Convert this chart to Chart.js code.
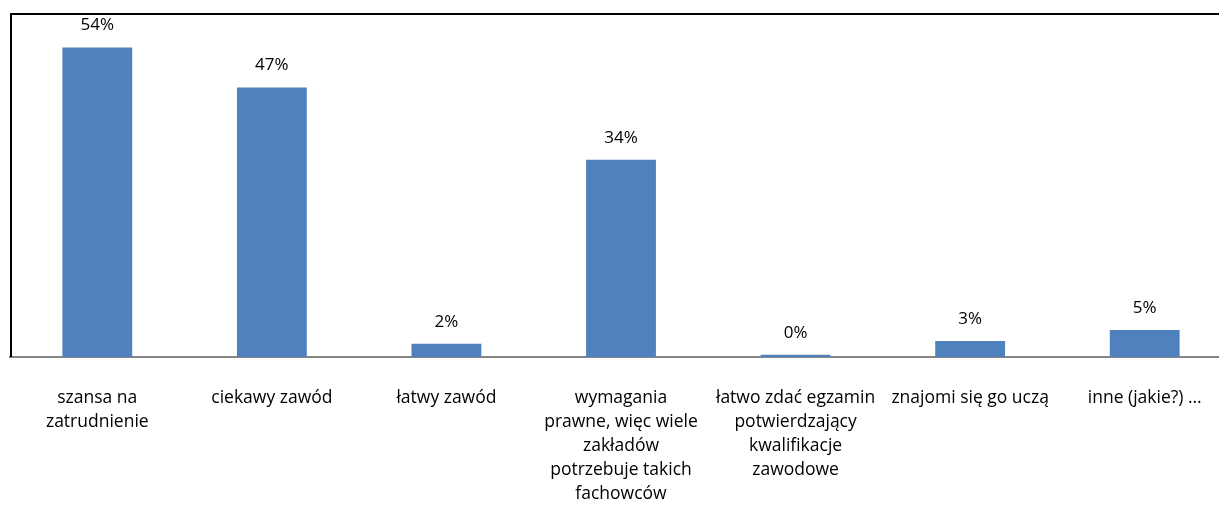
<!DOCTYPE html>
<html>
<head>
<meta charset="utf-8">
<script src="https://cdn.jsdelivr.net/npm/chart.js@4/dist/chart.umd.min.js"></script>
<style>
html,body{margin:0;padding:0;background:#fff;overflow:hidden;}
#wrap{width:1232px;height:507px;}
</style>
</head>
<body>
<div id="wrap"><canvas id="c" width="1232" height="507"></canvas></div>
<script>
const categories = [
  ["szansa na","zatrudnienie"],
  "ciekawy zawód",
  "łatwy zawód",
  ["wymagania","prawne, więc wiele","zakładów","potrzebuje takich","fachowców"],
  ["łatwo zdać egzamin","potwierdzający","kwalifikacje","zawodowe"],
  "znajomi się go uczą",
  "inne (jakie?) …"
];
const values = [54, 47, 2.3, 34.4, 0.4, 2.8, 4.7];
const valueLabels = ["54%","47%","2%","34%","0%","3%","5%"];

const FONT = "'Open Sans', Lato, sans-serif";

const framePlugin = {
  id: 'frame',
  afterDraw(chart) {
    const {ctx, chartArea} = chart;
    ctx.save();
    ctx.strokeStyle = '#000';
    ctx.lineWidth = 2;
    ctx.beginPath();
    ctx.moveTo(chartArea.left + 1, chartArea.bottom);
    ctx.lineTo(chartArea.left + 1, chartArea.top + 1);
    ctx.lineTo(chart.width + 5, chartArea.top + 1);
    ctx.stroke();
    ctx.restore();
  }
};

const valuePlugin = {
  id: 'values',
  afterDatasetsDraw(chart) {
    const {ctx} = chart;
    const meta = chart.getDatasetMeta(0);
    ctx.save();
    ctx.fillStyle = '#000';
    ctx.font = "17px " + FONT;
    ctx.textAlign = 'center';
    ctx.textBaseline = 'middle';
    meta.data.forEach((bar, i) => {
      ctx.fillText(valueLabels[i], bar.x, bar.y - 22);
    });
    ctx.restore();
  }
};

new Chart(document.getElementById('c'), {
  type: 'bar',
  data: {
    labels: categories,
    datasets: [{
      data: values,
      backgroundColor: '#4F81BD',
      borderWidth: 0,
      barPercentage: 0.4,
      categoryPercentage: 1.0
    }]
  },
  options: {
    responsive: false,
    animation: false,
    layout: {padding: {left: 10, top: 13, right: 0, bottom: 0}},
    plugins: {legend: {display: false}, tooltip: {enabled: false}},
    scales: {
      y: {display: false, min: 0, max: 60},
      x: {
        grid: {display: false},
        border: {display: true, color: '#868686', width: 2},
        ticks: {
          color: '#000',
          font: {family: FONT, size: 17.5, lineHeight: 1.37},
          padding: 21,
          maxRotation: 0,
          minRotation: 0,
          autoSkip: false
        },
        afterFit(scale) { scale.height = 150; }
      }
    }
  },
  plugins: [framePlugin, valuePlugin]
});
</script>
</body>
</html>
